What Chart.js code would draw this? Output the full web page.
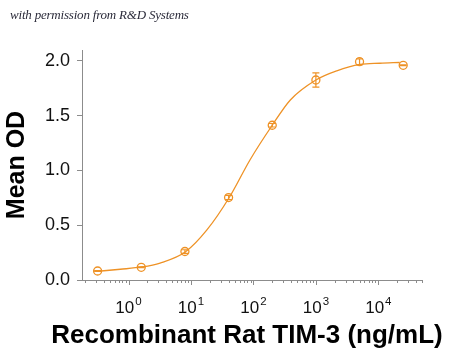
<!DOCTYPE html>
<html>
<head>
<meta charset="utf-8">
<script src="https://cdn.jsdelivr.net/npm/chart.js@4.4.1/dist/chart.umd.min.js"></script>
<style>
  html, body { margin: 0; padding: 0; background: #fff; }
  #wrap { position: relative; width: 450px; height: 360px; }
  #note { position: absolute; left: 10px; top: 7px; font: italic 13px "Liberation Serif", "DejaVu Serif", serif; color: #2b2b3a; white-space: nowrap; letter-spacing: -0.2px; }
</style>
</head>
<body>
<div id="wrap">
  <canvas id="c" width="450" height="360"></canvas>
  <div id="note">with permission from R&amp;D Systems</div>
</div>
<script>
// ---- data ----
const conc = [0.32, 1.6, 8, 40, 200, 1000, 5000, 25000];          // ng/mL
const meanOD = [0.082, 0.116, 0.26, 0.753, 1.413, 1.826, 1.993, 1.96];
const errOD = [0.004, 0.004, 0.016, 0.02, 0.016, 0.065, 0.026, 0.004];

// fitted curve
const curveX = [0.3, 0.74, 1.64, 3.2, 8.2, 18, 41, 88, 200, 390, 1000, 2160, 5100, 10600, 22000];
const curveY = [0.078, 0.098, 0.119, 0.155, 0.258, 0.457, 0.753, 1.096, 1.413, 1.644, 1.826, 1.91, 1.968, 1.979, 1.986];

const yTicks = [0, 0.5, 1.0, 1.5, 2.0];
const xMajor = [1, 10, 100, 1000, 10000];
const xMajorBase = '10';
const xMajorExp = ['0', '1', '2', '3', '4'];
const xTitle = 'Recombinant Rat TIM-3 (ng/mL)';
const yTitle = 'Mean OD';
const xMin = 0.18, xMax = 50000;
const yMin = 0, yMax = 2.1;

const ORANGE = '#EE9226';
const AXIS = '#8c8c8c';
const FONT = '"Liberation Sans", Arial, sans-serif';

// minor tick positions (1..9 x 10^n) within range
const xMinor = [];
for (let e = -1; e <= 4; e++) {
  for (let m = 1; m <= 9; m++) {
    const v = m * Math.pow(10, e);
    if (v >= xMin && v <= xMax) xMinor.push(v);
  }
}

const extras = {
  id: 'extras',
  afterDatasetsDraw(chart) {
    const { ctx, scales: { x, y } } = chart;
    ctx.save();
    // error bars
    ctx.strokeStyle = ORANGE;
    ctx.lineWidth = 1.2;
    conc.forEach((c, i) => {
      const px = x.getPixelForValue(c);
      const t = y.getPixelForValue(meanOD[i] + errOD[i]);
      const b = y.getPixelForValue(meanOD[i] - errOD[i]);
      ctx.beginPath();
      ctx.moveTo(px, t); ctx.lineTo(px, b);
      ctx.moveTo(px - 3.5, t); ctx.lineTo(px + 3.5, t);
      ctx.moveTo(px - 3.5, b); ctx.lineTo(px + 3.5, b);
      ctx.stroke();
    });
    // x-axis tick marks (major longer than minor)
    ctx.strokeStyle = AXIS;
    ctx.lineWidth = 1;
    const base = y.getPixelForValue(yMin);
    xMinor.forEach(v => {
      const px = Math.round(x.getPixelForValue(v)) + 0.5;
      const isMajor = xMajor.includes(v);
      ctx.beginPath();
      ctx.moveTo(px, base);
      ctx.lineTo(px, base + (isMajor ? 5 : 3));
      ctx.stroke();
    });
    // x-axis major labels: 10 with raised exponent
    ctx.fillStyle = '#111';
    ctx.textBaseline = 'alphabetic';
    ctx.textAlign = 'left';
    xMajor.forEach((v, i) => {
      const px = x.getPixelForValue(v);
      ctx.font = '17px ' + FONT;
      const wb = ctx.measureText(xMajorBase).width;
      ctx.font = '11.5px ' + FONT;
      const we = ctx.measureText(xMajorExp[i]).width;
      const x0 = px - (wb + 1 + we) / 2;
      ctx.font = '17px ' + FONT;
      ctx.fillText(xMajorBase, x0, 313);
      ctx.font = '11.5px ' + FONT;
      ctx.fillText(xMajorExp[i], x0 + wb + 1, 305);
    });
    // x-axis title (drawn without Chart.js' max-width squeeze)
    ctx.fillStyle = '#000';
    ctx.font = 'bold 26px ' + FONT;
    ctx.textAlign = 'center';
    ctx.fillText(xTitle, (x.left + x.right) / 2 - 5, 343);
    ctx.restore();
  }
};

new Chart(document.getElementById('c'), {
  type: 'scatter',
  data: {
    datasets: [
      {
        data: curveX.map((v, i) => ({ x: v, y: curveY[i] })),
        showLine: true,
        borderColor: ORANGE,
        borderWidth: 1.3,
        pointRadius: 0,
        cubicInterpolationMode: 'monotone',
        fill: false
      },
      {
        data: conc.map((v, i) => ({ x: v, y: meanOD[i] })),
        showLine: false,
        pointStyle: 'circle',
        pointRadius: 4,
        pointBorderWidth: 1.3,
        borderColor: ORANGE,
        backgroundColor: 'rgba(255,255,255,0)'
      }
    ]
  },
  options: {
    responsive: false,
    animation: false,
    layout: { padding: { left: 0, right: 28, top: 50, bottom: 0 } },
    plugins: { legend: { display: false }, tooltip: { enabled: false }, title: { display: false } },
    scales: {
      x: {
        type: 'logarithmic',
        min: xMin, max: xMax,
        afterBuildTicks: s => { s.ticks = xMinor.map(v => ({ value: v })); },
        afterFit: s => { s.height = 80; },
        border: { display: true, color: AXIS, width: 1 },
        grid: { drawOnChartArea: false, drawTicks: false },
        ticks: { display: false },
        title: { display: false }
      },
      y: {
        min: yMin, max: yMax,
        afterBuildTicks: s => { s.ticks = yTicks.map(v => ({ value: v })); },
        afterFit: s => { s.width = 82; },
        border: { display: true, color: AXIS, width: 1 },
        grid: { drawOnChartArea: false, drawTicks: true, tickLength: 5, tickColor: AXIS },
        ticks: {
          padding: 7, color: '#111',
          font: { family: FONT, size: 18 },
          callback: v => v.toFixed(1)
        },
        title: {
          display: true, text: yTitle, color: '#000',
          font: { family: FONT, size: 25, weight: 'bold' },
          padding: { top: 2, bottom: 0 }
        }
      }
    }
  },
  plugins: [extras]
});
</script>
</body>
</html>
